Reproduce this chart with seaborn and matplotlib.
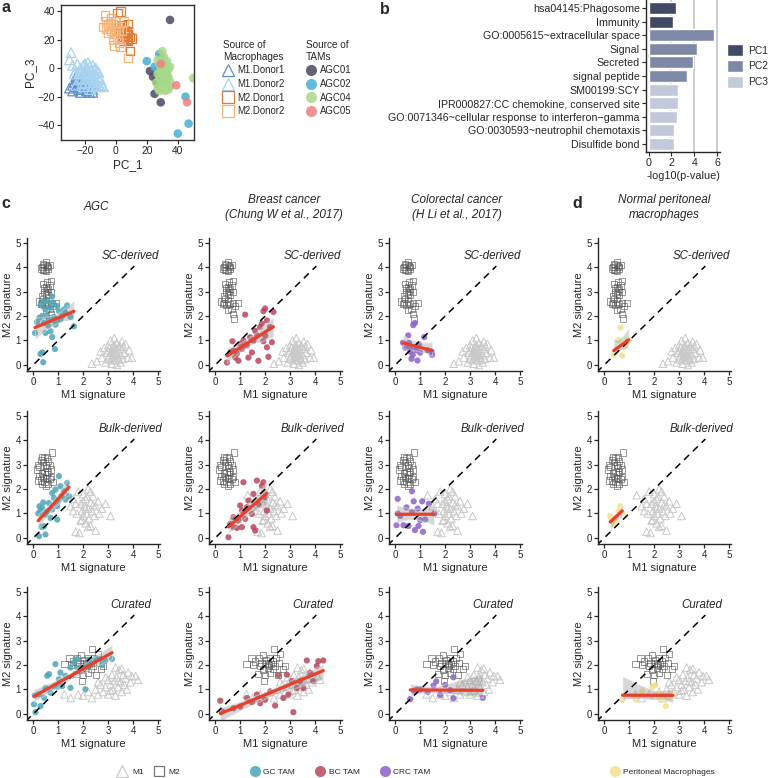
import numpy as np
import matplotlib
matplotlib.use("Agg")
import matplotlib.pyplot as plt
from matplotlib.lines import Line2D
import seaborn as sns


# -------------------------
# Panel a: PCA (PC_1 vs PC_3)
# -------------------------
m1_donor1 = np.array([(-30, -14), (-28, -16), (-27, -10), (-26, -13), (-25, -8), (-24, -15), (-23, -11),
                      (-22, -6), (-22, -14), (-21, -9), (-20, -12), (-19, -16), (-19, -7), (-18, -10),
                      (-17, -13), (-16, -8), (-15, -15), (-14, -11), (-24, -10), (-20, -5), (-26, -6),
                      (-23, -17), (-17, -17), (-15, -17), (-28, -12)])
m1_donor2 = np.array([(-29, 11), (-30, 6), (-28, 2), (-26, -2), (-25, 3), (-24, -4), (-23, 0), (-22, -7),
                      (-21, 2), (-20, -3), (-20, 3), (-19, 0), (-19, -8), (-18, -4), (-18, 4), (-17, 1),
                      (-17, -10), (-16, -2), (-16, -6), (-15, 2), (-15, -12), (-14, -4), (-14, -8), (-13, 0),
                      (-13, -13), (-12, -6), (-12, -10), (-11, -3), (-10, -8), (-9, -12), (-8, -13),
                      (-22, -11), (-21, -13), (-24, -8), (-26, -12), (-27, -4), (-18, -13), (-16, -15),
                      (-11, -12), (-20, -10), (-23, -3), (-17, -6), (-14, -1), (-12, -2), (-10, -13)])
m2_donor1 = np.array([(1, 39), (3, 40), (4, 30), (5, 22), (6, 25), (7, 20), (8, 24), (9, 22), (6, 27),
                      (7, 23), (5, 19), (9, 12), (8, 31), (3, 25), (4, 21), (10, 21), (7, 26), (2, 29),
                      (6, 22), (8, 19)])
m2_donor2 = np.array([(-7, 37), (-6, 33), (-8, 29), (-5, 30), (-4, 28), (-3, 26), (-2, 31), (-1, 24),
                      (0, 27), (-6, 28), (-5, 25), (0, 33), (1, 21), (2, 18), (3, 15), (-2, 20), (8, 7),
                      (1, 29), (-3, 35), (-4, 32), (4, 26), (-1, 16), (5, 33), (2, 26)])
agc01 = np.array([(35, 34), (22, -2), (24, -6), (25, -18), (29, -24), (26, -9), (27, -11), (28, -5),
                  (30, -7), (32, -10)])
agc02 = np.array([(20, 5), (28, 10), (25, 1), (27, -1), (31, 3), (33, -6), (45, -20), (47, -39),
                  (40, -46), (29, 8)])
agc04 = np.array([(50, -7), (30, 12), (27, 6), (28, 3), (29, 0), (30, -2), (31, -5), (32, -8), (33, -12),
                  (34, -15), (26, -10), (27, -14), (28, -16), (29, -12), (30, -9), (31, -13), (32, -16),
                  (33, -3), (34, -1), (35, 1), (35, -9), (28, -7), (30, 4), (31, 8), (32, 2), (29, -3),
                  (27, -4), (33, 5), (34, -6), (31, -1), (30, -15), (35, -13)])
agc05 = np.array([(29, 3), (39, -12), (46, -24)])

MAC_LABELS = ["M1.Donor1", "M1.Donor2", "M2.Donor1", "M2.Donor2"]
MAC_COLORS = ["#5b8fd0", "#a9d3ee", "#e07b39", "#f5b47a"]
MAC_MARKERS = ["^", "^", "s", "s"]
AGC_LABELS = ["AGC01", "AGC02", "AGC04", "AGC05"]
AGC_COLORS = ["#4b4760", "#4aaed6", "#a9d98a", "#f08080"]

# -------------------------
# Panel b: enrichment of PC genes
# -------------------------
go_terms = ["hsa04145:Phagosome", "Immunity", "GO:0005615~extracellular space", "Signal", "Secreted",
            "signal peptide", "SM00199:SCY", "IPR000827:CC chemokine, conserved site",
            "GO:0071346~cellular response to interferon\u2212gamma", "GO:0030593~neutrophil chemotaxis",
            "Disulfide bond"]
go_logp = [2.4, 2.1, 5.75, 4.2, 3.9, 3.4, 2.6, 2.6, 2.5, 2.25, 2.25]
go_pc = ["PC1", "PC1", "PC2", "PC2", "PC2", "PC2", "PC3", "PC3", "PC3", "PC3", "PC3"]
PC_COLORS = {"PC1": "#414a64", "PC2": "#7d89a6", "PC3": "#c1c9da"}

# -------------------------
# Panels c/d: M1 vs M2 signature scores
# -------------------------
m1_sc = np.array([(2.35, 0.05), (2.55, 0.15), (2.75, 0.3), (2.9, 0.1), (2.95, 0.5), (3.0, 0.8), (3.05, 0.4),
                  (3.1, 1.0), (3.1, 0.2), (3.15, 0.6), (3.2, 0.35), (3.2, 0.75), (3.25, 0.5), (3.25, 1.1),
                  (3.3, 0.2), (3.3, 0.65), (3.35, 0.45), (3.35, 0.9), (3.4, 0.3), (3.4, 0.6), (3.45, 0.8),
                  (3.5, 0.4), (3.5, 0.1), (3.55, 0.65), (3.6, 0.25), (3.65, 0.5), (3.7, 0.85), (3.8, 0.3),
                  (3.85, 0.6), (3.95, 0.3), (3.0, 0.6), (3.1, 0.5), (3.2, 0.55), (3.3, 0.4), (3.15, 0.3),
                  (3.25, 0.8), (3.05, 0.7), (2.85, 0.7), (2.7, 0.55), (3.45, 0.2), (3.6, 0.75), (3.35, 0.0),
                  (3.15, 0.05), (3.55, 0.95), (3.0, 0.25)])
m2_sc = np.array([(0.35, 4.0), (0.4, 4.15), (0.45, 3.9), (0.5, 4.2), (0.55, 4.05), (0.6, 3.95), (0.45, 4.1),
                  (0.5, 3.85), (0.65, 4.1), (0.38, 3.9), (0.58, 4.0), (0.3, 3.95), (0.4, 3.3), (0.5, 3.2),
                  (0.55, 3.4), (0.6, 3.1), (0.45, 3.0), (0.65, 3.25), (0.7, 3.45), (0.5, 2.9), (0.35, 2.8),
                  (0.6, 2.85), (0.72, 3.0), (0.42, 3.15), (0.55, 3.05), (0.25, 2.6), (0.3, 2.5), (0.4, 2.7),
                  (0.5, 2.6), (0.6, 2.5), (0.7, 2.55), (0.9, 2.55), (0.65, 2.3), (0.7, 2.1), (0.75, 1.9),
                  (0.5, 2.25), (0.35, 2.55), (0.8, 2.4), (0.45, 2.45)])
m1_bulk = np.array([(1.3, 1.75), (1.5, 1.3), (1.6, 1.6), (1.7, 0.25), (1.75, 1.0), (1.8, 1.9), (1.85, 0.2),
                    (1.9, 0.7), (1.9, 1.4), (1.95, 1.1), (2.0, 1.8), (2.0, 0.9), (2.05, 1.3), (2.1, 0.6),
                    (2.1, 1.6), (2.15, 1.0), (2.2, 1.2), (2.2, 2.0), (2.25, 0.8), (2.3, 1.45), (2.3, 0.5),
                    (2.35, 1.1), (2.4, 1.7), (2.45, 0.9), (2.5, 0.3), (2.5, 1.3), (2.6, 1.5), (2.65, 1.0),
                    (2.75, 1.2), (2.9, 1.4), (3.1, 0.9), (2.0, 1.5), (2.1, 1.2), (1.95, 0.75), (2.2, 0.45),
                    (2.4, 1.35), (1.7, 1.4), (1.6, 1.1), (2.15, 1.7), (2.3, 1.9)])
m2_bulk = np.array([(0.15, 2.8), (0.2, 3.0), (0.25, 2.9), (0.3, 3.2), (0.35, 3.3), (0.4, 3.1), (0.45, 3.25),
                    (0.5, 3.0), (0.55, 2.85), (0.6, 3.15), (0.65, 3.0), (0.7, 2.8), (0.75, 3.5), (0.4, 2.5),
                    (0.45, 2.3), (0.5, 2.45), (0.55, 2.6), (0.6, 2.2), (0.65, 2.4), (0.3, 2.35), (0.35, 2.2),
                    (0.2, 2.35), (0.5, 2.15), (0.7, 2.5), (0.8, 2.3), (0.45, 2.7), (0.55, 3.3), (0.35, 2.65),
                    (0.25, 2.55), (0.6, 2.7)])
m1_cur = np.array([(1.25, 0.8), (1.5, 0.65), (1.8, 0.8), (2.0, 0.75), (2.2, 0.9), (2.35, 0.65), (2.5, 1.0),
                   (2.6, 0.8), (2.7, 1.2), (2.8, 0.9), (2.9, 1.1), (3.0, 1.4), (3.0, 0.8), (3.1, 1.2),
                   (3.15, 1.6), (3.2, 1.0), (3.25, 1.35), (3.3, 0.75), (3.35, 1.5), (3.4, 1.1), (3.45, 1.8),
                   (3.5, 1.3), (3.55, 0.9), (3.6, 1.6), (3.65, 1.2), (3.7, 1.45), (3.75, 1.0), (3.8, 1.7),
                   (3.9, 1.3), (3.95, 1.55), (4.1, 1.55), (4.2, 1.4), (3.3, 1.9), (2.9, 1.5), (3.55, 1.85),
                   (2.6, 1.3), (3.1, 0.95), (3.4, 1.35)])
m2_cur = np.array([(1.25, 2.05), (1.45, 2.3), (1.5, 2.0), (1.6, 2.15), (1.7, 1.65), (1.75, 2.3), (1.8, 1.95),
                   (1.85, 2.1), (1.9, 1.8), (1.95, 1.35), (2.0, 2.05), (2.05, 2.2), (2.1, 1.9), (2.1, 2.1),
                   (2.15, 2.0), (2.2, 2.3), (2.2, 1.7), (2.25, 2.05), (2.3, 2.15), (2.35, 2.65), (2.4, 1.95),
                   (2.45, 2.3), (2.5, 1.6), (2.55, 2.1), (2.6, 2.45), (2.7, 1.85), (2.8, 1.95), (2.0, 1.6),
                   (1.9, 2.4), (2.3, 1.85)])

gc_sc = np.array([(0.07, 1.31), (0.25, 1.93), (0.29, 0.45), (0.36, 0.51), (0.4, 0.11), (0.49, 1.31),
                  (0.6, 1.61), (0.69, 2.34), (0.76, 2.8), (0.8, 2.55), (0.83, 1.97), (0.96, 1.79), (0.87, 0.65),
                  (0.69, 1.38), (0.76, 1.14), (1.03, 2.2), (1.16, 2.0), (1.29, 2.13), (1.36, 2.44),
                  (1.63, 1.58), (1.49, 1.97), (0.56, 2.0), (0.43, 1.72), (0.63, 1.86), (0.89, 1.65),
                  (1.09, 1.86), (1.23, 2.27), (0.49, 2.27), (0.36, 2.0), (0.96, 2.41), (0.15, 1.75),
                  (0.3, 2.45), (0.4, 2.6), (0.55, 2.6)])
bc_sc = np.array([(0.47, 0.1), (0.69, 0.97), (0.87, 0.47), (0.93, 0.17), (1.2, 2.06), (1.33, 0.3), (1.53, 1.0),
                  (1.73, 0.17), (1.93, 2.2), (1.93, 0.97), (2.07, 0.72), (2.13, 0.33), (2.33, 2.17), (1.6, 1.4),
                  (1.8, 1.55), (1.67, 1.2), (1.4, 1.13), (1.27, 0.79), (1.07, 0.65), (0.73, 0.58), (0.6, 0.51),
                  (1.0, 0.86), (2.07, 1.82), (1.87, 1.69), (2.0, 1.2), (2.2, 1.55), (1.47, 0.51), (0.8, 0.3),
                  (1.13, 1.0), (2.27, 0.93), (2.0, 2.31)])
crc_sc = np.array([(0.72, 1.63), (0.79, 1.72), (0.52, 1.21), (0.31, 0.91), (0.59, 0.69), (0.7, 0.41),
                   (0.89, 0.18), (1.16, 1.14), (1.48, 0.41), (0.79, 0.69), (0.4, 0.7), (0.55, 0.9), (0.6, 0.55),
                   (0.85, 0.6), (1.0, 0.5), (0.95, 0.85), (0.65, 0.25), (1.3, 0.6), (1.45, 0.55)])
pm_sc = np.array([(0.65, 1.53), (0.58, 1.02), (0.98, 1.0), (0.38, 0.41), (0.72, 0.38), (0.5, 0.6),
                  (0.8, 0.75), (0.45, 0.5), (0.9, 0.95)])

gc_bulk = np.array([(0.23, 0.07), (0.49, 0.14), (0.33, 0.45), (0.43, 0.48), (0.2, 1.0), (0.49, 0.96),
                    (0.76, 1.16), (0.96, 0.75), (1.0, 1.5), (1.03, 2.53), (1.09, 2.12), (1.23, 1.91),
                    (1.36, 2.25), (1.43, 1.71), (0.83, 1.64), (0.63, 1.43), (0.36, 1.23), (0.69, 0.82),
                    (0.89, 1.98), (1.13, 1.71), (1.29, 1.57), (0.56, 1.09), (0.29, 1.1), (0.96, 1.3),
                    (0.76, 1.84), (0.25, 1.3), (0.4, 1.45)])
bc_bulk = np.array([(0.53, 0.03), (0.73, 0.85), (0.87, 0.41), (1.07, 0.44), (1.07, 1.12), (1.13, 2.28),
                    (0.6, 0.57), (1.67, 2.35), (1.87, 2.14), (1.93, 2.28), (1.53, 1.8), (1.6, 0.3),
                    (1.53, 0.44), (1.27, 1.26), (1.33, 1.53), (0.93, 0.71), (0.73, 0.44), (1.47, 0.98),
                    (1.73, 1.39), (2.0, 1.67), (2.07, 1.12), (1.0, 1.33), (1.2, 0.78)])
crc_bulk = np.array([(0.67, 1.91), (0.74, 1.5), (1.08, 1.5), (1.35, 1.4), (1.56, 1.0), (0.67, 1.07),
                     (0.33, 0.52), (0.53, 0.49), (0.93, 0.49), (0.79, 0.32), (1.11, 0.25), (1.0, 0.73),
                     (0.05, 0.52), (0.1, 1.0), (0.1, 1.6), (0.2, 0.9), (0.45, 1.25), (0.9, 1.2), (1.2, 0.75)])
pm_bulk = np.array([(0.24, 0.89), (0.38, 0.55), (0.51, 0.66), (0.65, 1.3), (0.72, 1.03), (0.45, 0.8),
                    (0.58, 1.1), (0.3, 0.7)])

gc_cur = np.array([(0.03, 0.39), (0.09, 0.07), (0.29, 0.32), (0.07, 0.76), (0.49, 1.07), (0.56, 1.56),
                   (0.63, 1.63), (0.89, 2.04), (0.83, 1.12), (0.43, 0.66), (0.69, 0.87), (1.09, 1.69),
                   (0.96, 1.12), (1.16, 1.14), (1.49, 1.07), (1.49, 1.9), (1.63, 2.11), (1.76, 2.25),
                   (1.83, 1.9), (2.09, 1.01), (2.23, 2.22), (2.49, 2.25), (2.69, 2.25), (2.89, 2.18),
                   (3.16, 2.25), (2.76, 2.0), (2.16, 1.97), (1.29, 1.56), (1.03, 1.42), (0.23, 0.8)])
bc_cur = np.array([(0.2, 0.54), (0.27, 0.1), (1.47, 0.48), (1.8, 0.44), (2.4, 0.34), (3.13, 0.07), (2.73, 0.65),
                   (2.93, 0.79), (2.53, 1.58), (2.87, 1.61), (3.67, 2.19), (4.13, 2.16), (4.33, 2.19),
                   (4.07, 1.96), (3.8, 1.68), (3.4, 1.34), (3.27, 1.06), (2.2, 0.92), (1.67, 0.79),
                   (1.27, 0.65), (1.0, 0.3), (3.53, 1.06), (3.93, 1.34), (3.07, 1.34), (2.0, 0.58), (0.73, 0.23)])
crc_cur = np.array([(0.6, 0.61), (0.87, 1.0), (1.0, 1.0), (1.53, 1.16), (1.64, 1.33), (1.8, 0.78), (2.0, 1.19),
                    (2.33, 1.5), (2.33, 0.64), (3.51, 0.66), (2.2, 0.97), (0.75, 0.95), (1.3, 0.9)])
pm_cur = np.array([(0.73, 0.59), (1.27, 0.59), (1.91, 1.09), (2.04, 1.18), (2.27, 0.59), (2.47, 0.32),
                   (2.6, 0.66), (1.53, 0.93), (2.2, 0.87), (2.75, 0.8)])

SIG_ROWS = ["SC-derived", "Bulk-derived", "Curated"]
COL_TITLES = ["AGC", "Breast cancer\n(Chung W et al., 2017)", "Colorectal cancer\n(H Li et al., 2017)",
              "Normal peritoneal\nmacrophages"]
TAM_LABELS = ["GC TAM", "BC TAM", "CRC TAM", "Peritoneal Macrophages"]
TAM_COLORS = ["#4ea6b6", "#b9475f", "#8b62c8", "#f5e08c"]

W, H = 779, 778
M1_COLOR = "#c9c9c9"
M2_COLOR = "#555555"
LINE_RED = "#e8402c"


sns.set_style("ticks")
plt.rcParams["font.family"] = ["Liberation Sans", "DejaVu Sans"]
plt.rcParams["axes.linewidth"] = 1.0

fig = plt.figure(figsize=(W / 100, H / 100), dpi=100)


def add_ax(left, top, right, bottom):
    return fig.add_axes([left / W, 1 - bottom / H, (right - left) / W, (bottom - top) / H])


def fig_text(x, y, s, **kw):
    fig.text(x / W, 1 - y / H, s, **kw)


# -------------------------
# a
# -------------------------
def draw_pca():
    ax = add_ax(61, 5, 194, 140)
    for pts, col, mk in zip([m1_donor1, m1_donor2, m2_donor1, m2_donor2], MAC_COLORS, MAC_MARKERS):
        sns.scatterplot(x=pts[:, 0], y=pts[:, 1], marker=mk, s=48 if mk == "^" else 36,
                        facecolor="none", edgecolor=col, linewidth=0.9, ax=ax)
    for pts, col in zip([agc01, agc02, agc04, agc05], AGC_COLORS):
        sns.scatterplot(x=pts[:, 0], y=pts[:, 1], color=col, s=38, alpha=0.85,
                        edgecolor="none", ax=ax)
    ax.set_xlim(-35.5, 50.5)
    ax.set_ylim(-50.5, 44.5)
    ax.set_xticks([-20, 0, 20, 40])
    ax.set_yticks([-40, -20, 0, 20, 40])
    ax.tick_params(labelsize=7.4, length=3, width=0.8, pad=1.5)
    ax.set_xlabel("PC_1", fontsize=8.5, labelpad=2)
    ax.set_ylabel("PC_3", fontsize=8.5, labelpad=1)
    for sp in ax.spines.values():
        sp.set_color("#333333")

    mac_handles = [Line2D([], [], marker=mk, ls="none", mfc="none", mec=c, ms=8, mew=0.9)
                   for mk, c in zip(MAC_MARKERS, MAC_COLORS)]
    agc_handles = [Line2D([], [], marker="o", ls="none", mfc=c, mec="none", ms=8, alpha=0.85)
                   for c in AGC_COLORS]
    common = dict(loc="upper left", frameon=False, fontsize=6.9, title_fontsize=7.2, alignment="left",
                  handlelength=1.0, handletextpad=0.5, labelspacing=0.38, borderpad=0, borderaxespad=0)
    fig.legend(mac_handles, MAC_LABELS, title="Source of\nMacrophages",
               bbox_to_anchor=(223 / W, 1 - 40 / H), **common)
    fig.legend(agc_handles, AGC_LABELS, title="Source of\nTAMs",
               bbox_to_anchor=(306 / W, 1 - 40 / H), **common)


# -------------------------
# b
# -------------------------
def draw_enrichment():
    ax = add_ax(646, 0, 720, 152)
    for v in [2, 4, 6]:
        ax.axvline(v, color="#c4c4c4", lw=1.2, zorder=0)
    sns.barplot(x=go_logp, y=go_terms, hue=go_pc, palette=PC_COLORS, dodge=False,
                width=0.88, saturation=1, ax=ax, zorder=2)
    ax.set_xlim(-0.23, 6.25)
    ax.set_ylim(10.6, -0.6)
    ax.set_xticks([0, 2, 4, 6])
    ax.set_ylabel("")
    ax.set_xlabel("-log10(p-value)", fontsize=7.8, labelpad=2)
    ax.tick_params(labelsize=7.7, length=3, width=0.8, pad=1.5)
    sns.despine(ax=ax)
    sns.move_legend(ax, loc="upper left", bbox_to_anchor=(727 / W, 1 - 44 / H),
                    bbox_transform=fig.transFigure, title=None, frameon=False, fontsize=7.4,
                    handlelength=1.6, handleheight=1.45, handletextpad=0.5, labelspacing=0.35,
                    borderpad=0, borderaxespad=0)


# -------------------------
# c / d
# -------------------------
def draw_signature(ax, m1, m2, tam, color, row_label):
    ax.plot([-0.3, 4.05], [-0.3, 4.05], ls=(0, (4.5, 3.5)), color="black", lw=1.1, zorder=2)
    sns.scatterplot(x=m1[:, 0], y=m1[:, 1], marker="^", s=30, facecolor="none",
                    edgecolor=M1_COLOR, linewidth=0.7, ax=ax)
    sns.scatterplot(x=m2[:, 0], y=m2[:, 1], marker="s", s=20, facecolor="none",
                    edgecolor=M2_COLOR, linewidth=0.7, alpha=0.6, ax=ax)
    sns.regplot(x=tam[:, 0], y=tam[:, 1], ax=ax, ci=95, seed=0,
                scatter_kws=dict(s=20, color=color, alpha=0.85, edgecolor="none"),
                line_kws=dict(color=LINE_RED, lw=2.3, zorder=3))
    band = ax.collections[-1]
    band.set_facecolor("#8f8f8f")
    band.set_alpha(0.35)

    ax.set_xlim(-0.25, 5.08)
    ax.set_ylim(-0.25, 5.2)
    ax.set_xticks(range(6))
    ax.set_yticks(range(6))
    ax.tick_params(labelsize=7, length=3, width=0.9, pad=1.5)
    ax.set_xlabel("M1 signature", fontsize=8, labelpad=2)
    ax.set_ylabel("M2 signature", fontsize=8, labelpad=2)
    ax.text(3.9, 4.45, row_label, style="italic", fontsize=8.3, ha="center", va="center")
    sns.despine(ax=ax)


def draw_signature_grid():
    col_left = [27, 209, 389, 598]
    row_top = [238, 411, 587]
    ref_m1 = [m1_sc, m1_bulk, m1_cur]
    ref_m2 = [m2_sc, m2_bulk, m2_cur]
    tam_grid = [[gc_sc, bc_sc, crc_sc, pm_sc],
                [gc_bulk, bc_bulk, crc_bulk, pm_bulk],
                [gc_cur, bc_cur, crc_cur, pm_cur]]
    for r, top in enumerate(row_top):
        for c, left in enumerate(col_left):
            ax = add_ax(left, top, left + 133, top + 133)
            draw_signature(ax, ref_m1[r], ref_m2[r], tam_grid[r][c], TAM_COLORS[c], SIG_ROWS[r])

    for title, xc in zip(COL_TITLES, [96, 284, 457, 664]):
        fig_text(xc, 207.5, title, style="italic", fontsize=8.5, ha="center", va="center",
                 linespacing=1.25)

    ref_handles = [Line2D([], [], marker="^", ls="none", mfc="none", mec=M1_COLOR, ms=9, mew=0.9),
                   Line2D([], [], marker="s", ls="none", mfc="none", mec="#777777", ms=7, mew=0.9)]
    tam_handles = [Line2D([], [], marker="o", ls="none", mfc=c, mec="none", ms=8, alpha=0.85)
                   for c in TAM_COLORS]
    common = dict(loc="center left", frameon=False, fontsize=6, handlelength=1.2, borderpad=0,
                  borderaxespad=0)
    fig.legend(ref_handles, ["M1", "M2"], ncol=2, bbox_to_anchor=(117 / W, 1 - 772 / H),
               handletextpad=0.6, columnspacing=1.2, **common)
    fig.legend(tam_handles[:3], TAM_LABELS[:3], ncol=3, bbox_to_anchor=(250 / W, 1 - 772 / H),
               handletextpad=0.4, columnspacing=2.4, **common)
    fig.legend(tam_handles[3:], TAM_LABELS[3:], bbox_to_anchor=(610 / W, 1 - 772 / H),
               handletextpad=0.4, **common)


def main():
    draw_pca()
    draw_enrichment()
    draw_signature_grid()

    for letter, x, y in [("a", 1, 8), ("b", 380, 10), ("c", 1, 204), ("d", 572, 204)]:
        fig_text(x, y, letter, fontsize=11.5, fontweight="bold", va="center", ha="left")

    fig.savefig("out.png", dpi=100)


if __name__ == "__main__":
    main()
